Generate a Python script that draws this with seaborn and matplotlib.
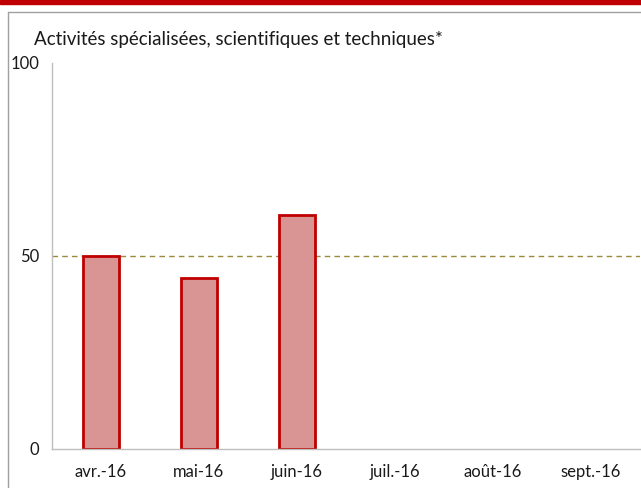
import numpy as np
import pandas as pd
import seaborn as sns
import matplotlib.pyplot as plt
from matplotlib.patches import Rectangle
from matplotlib.lines import Line2D

# data
months = ['avr.-16', 'mai-16', 'juin-16', 'juil.-16', 'août-16', 'sept.-16']
values = [50.0, 44.3, 60.6, np.nan, np.nan, np.nan]
reference = 50

df = pd.DataFrame({'mois': months, 'solde': values})

sns.set_style("white")
plt.rcParams['font.family'] = ['Lato', 'DejaVu Sans']

fig = plt.figure(figsize=(6.41, 4.88), dpi=100)
ax = fig.add_axes([0.081, 0.080, 0.917, 0.791])

sns.barplot(data=df, x='mois', y='solde', order=months, color='#d99594',
            edgecolor='#c00000', linewidth=2, width=0.37, saturation=1, ax=ax)

ax.axhline(reference, color='#9c8a3a', linestyle=(0, (4, 3)), linewidth=1, zorder=0)

ax.set_ylim(0, 100)
ax.set_xlim(-0.5, len(months) - 0.5)
ax.set_yticks([0, 50, 100])
ax.set_xlabel('')
ax.set_ylabel('')

# ticks between categories on the x axis
ax.set_xticks(np.arange(len(months) + 1) - 0.5, minor=True)
ax.tick_params(axis='x', which='minor', length=6, color='#bfbfbf', width=1)
ax.tick_params(axis='x', which='major', length=0, labelsize=12, pad=11)
ax.tick_params(axis='y', length=5, color='#bfbfbf', width=1, labelsize=12, pad=4)
for lab in ax.get_xticklabels() + ax.get_yticklabels():
    lab.set_color('#1a1a1a')

for side in ['top', 'right']:
    ax.spines[side].set_visible(False)
for side in ['left', 'bottom']:
    ax.spines[side].set_color('#bfbfbf')
    ax.spines[side].set_linewidth(1)

# header band and frame
fig.patches.append(Rectangle((0, 0.991), 1, 0.009, transform=fig.transFigure,
                             color='#c00000', zorder=5))
fig.lines.append(Line2D([0.013, 1], [0.975, 0.975], transform=fig.transFigure,
                        color='#a0a0a0', linewidth=1))
fig.lines.append(Line2D([0.013, 0.013], [0, 0.975], transform=fig.transFigure,
                        color='#a0a0a0', linewidth=1))

fig.text(0.053, 0.920, 'Activités spécialisées, scientifiques et techniques*',
         fontsize=13.5, va='center', ha='left', color='#1a1a1a')

fig.savefig('out.png', dpi=100)
